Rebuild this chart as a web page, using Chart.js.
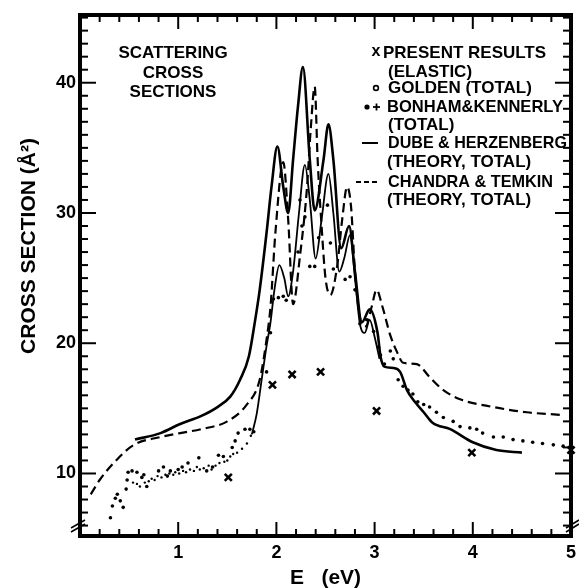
<!DOCTYPE html>
<html>
<head>
<meta charset="utf-8">
<title>Scattering cross sections</title>
<script src="https://cdn.jsdelivr.net/npm/chart.js@4.4.1/dist/chart.umd.min.js"></script>
<style>
  html, body { margin: 0; padding: 0; background: #fff; }
  #wrap { position: relative; width: 579px; height: 588px; }
</style>
</head>
<body>
<div id="wrap"><canvas id="xsChart"></canvas></div>
<script>
// ─── DATA ──────────────────────────────────────────────────
const X_TICKS = [1, 2, 3, 4, 5];
const Y_TICKS = [10, 20, 30, 40];

// present results (elastic) – crosses
const PRESENT_E = [1.51, 1.96, 2.16, 2.45, 3.02, 3.99, 5.00];
const PRESENT_Q = [9.7, 16.8, 17.6, 17.8, 14.8, 11.6, 11.8];

// Dube & Herzenberg (theory, total) – solid
const DUBE_E = [0.56, 0.82, 1.02, 1.23, 1.40, 1.53, 1.63, 1.72, 1.78, 1.83, 1.90, 1.95, 2.01, 2.07, 2.12, 2.17, 2.22, 2.27, 2.34, 2.39,
                2.48, 2.53, 2.58, 2.66, 2.74, 2.80, 2.87, 2.95, 3.03, 3.06, 3.10, 3.19, 3.26, 3.33, 3.41, 3.50, 3.59, 3.77, 4.00, 4.24, 4.50];
const DUBE_Q = [12.6, 13.1, 13.8, 14.4, 15.1, 15.9, 17.2, 19.0, 21.6, 24.1, 28.5, 32.0, 35.1, 32.0, 30.0, 34.1, 38.2, 41.2, 34.1, 30.2,
                34.1, 36.8, 34.1, 27.3, 29.0, 25.5, 21.6, 22.6, 20.8, 19.0, 18.2, 18.1, 17.8, 16.4, 15.5, 14.7, 13.9, 13.4, 12.4, 11.8, 11.6];

// Chandra & Temkin (theory, total) – dashed
const CHANDRA_E = [0.11, 0.20, 0.38, 0.55, 0.82, 1.02, 1.23, 1.50, 1.70, 1.83, 1.90, 1.94, 1.99, 2.07, 2.12, 2.17, 2.24, 2.31, 2.35, 2.39,
                   2.42, 2.46, 2.50, 2.55, 2.62, 2.67, 2.72, 2.76, 2.80, 2.85, 2.91, 2.97, 3.02, 3.08, 3.16, 3.23, 3.29, 3.43, 3.56, 3.70,
                   3.87, 4.21, 4.55, 4.89];
const CHANDRA_Q = [8.4, 9.5, 11.1, 12.2, 12.8, 13.1, 13.4, 14.0, 15.3, 17.2, 20.3, 22.8, 28.5, 33.9, 29.5, 23.0, 26.7, 31.8, 36.5, 39.7,
                   34.1, 29.0, 25.0, 23.7, 26.0, 29.5, 32.0, 30.5, 25.5, 22.0, 21.3, 22.8, 24.1, 22.8, 20.6, 19.3, 18.5, 18.4, 17.4, 16.4,
                   15.7, 15.1, 14.7, 14.5];

// Golden (total) – thin trace through the resonance
const GOLDEN_E = [1.75, 1.80, 1.85, 1.90, 1.94, 1.98, 2.03, 2.08, 2.12, 2.17, 2.23, 2.29, 2.34, 2.40, 2.46, 2.53, 2.58, 2.64, 2.69, 2.75,
                  2.80, 2.85, 2.90, 2.95, 3.00, 3.05];
const GOLDEN_Q = [13.0, 14.6, 17.2, 19.8, 21.6, 24.1, 26.0, 25.0, 23.6, 25.5, 30.0, 33.7, 31.0, 26.5, 29.5, 33.0, 30.0, 25.5, 26.5, 28.3,
                  25.0, 21.5, 20.8, 21.8, 20.5, 18.8];

// Bonham & Kennerly (total) – dots
const BK_E = [0.31, 0.33, 0.36, 0.38, 0.41, 0.44, 0.47, 0.48, 0.49, 0.53, 0.58, 0.63, 0.65, 0.68, 0.80, 0.85, 0.89, 0.92, 1.00, 1.04,
              1.10, 1.21, 1.29, 1.35, 1.41, 1.46, 1.55, 1.58, 1.61, 1.68, 1.73, 1.77, 1.90, 1.94, 1.97, 2.02, 2.07, 2.10, 2.22, 2.24,
              2.26, 2.29, 2.34, 2.39, 2.43, 2.52, 2.55, 2.58, 2.70, 2.75, 2.80, 2.85, 2.92, 2.99, 3.04, 3.06, 3.10, 3.16, 3.19, 3.24,
              3.29, 3.34, 3.39, 3.44, 3.50, 3.56, 3.63, 3.70, 3.80, 3.87, 3.97, 4.04, 4.10, 4.21, 4.31, 4.41, 4.51, 4.61, 4.71, 4.82,
              4.92, 5.00];
const BK_Q = [6.6, 7.5, 8.1, 8.4, 7.9, 7.4, 8.8, 9.5, 10.1, 10.2, 10.1, 9.7, 9.9, 9.0, 10.2, 10.5, 9.8, 10.2, 10.3, 10.5,
              10.8, 11.2, 10.2, 10.5, 11.4, 11.3, 12.0, 12.5, 13.1, 13.4, 13.4, 13.2, 17.8, 20.8, 23.4, 23.5, 23.6, 23.3, 27.0, 31.0,
              29.0, 29.7, 25.9, 25.9, 28.1, 30.6, 27.7, 25.7, 24.9, 25.1, 24.1, 21.5, 21.8, 20.9, 19.7, 19.1, 18.4, 19.4, 18.8, 17.2,
              16.7, 16.4, 16.1, 15.5, 15.3, 15.1, 14.7, 14.3, 14.0, 13.6, 13.5, 13.4, 13.1, 12.8, 12.8, 12.6, 12.5, 12.4, 12.3, 12.2,
              12.1, 12.1];

// Bonham & Kennerly (total) – crosses, the dense low-energy trail
const BKP_E = [0.54, 0.58, 0.61, 0.66, 0.70, 0.73, 0.76, 0.79, 0.83, 0.87, 0.91, 0.95, 0.97, 1.01, 1.05, 1.08, 1.12, 1.16, 1.19, 1.22,
               1.26, 1.31, 1.34, 1.38, 1.42, 1.47, 1.50, 1.53, 1.56, 1.60, 1.65, 1.70, 1.74];
const BKP_Q = [9.3, 9.2, 9.0, 9.3, 9.4, 9.6, 9.5, 9.8, 9.7, 9.9, 10.0, 9.9, 10.1, 10.0, 10.2, 10.1, 10.3, 10.2, 10.5, 10.3,
               10.4, 10.6, 10.3, 10.6, 10.8, 10.9, 11.0, 11.3, 11.5, 11.6, 11.9, 12.3, 12.9];

// ─── CHART ─────────────────────────────────────────────────
const FONT = '"Liberation Sans", Arial, sans-serif';
const pts = (xs, ys) => xs.map((x, i) => ({ x, y: ys[i] }));

const paperDecor = {
  id: 'paperDecor',
  afterDraw(chart) {
    const { ctx, chartArea: a, scales: { x, y } } = chart;
    const seg = (x1, y1, x2, y2, w) => {
      ctx.lineWidth = w;
      ctx.beginPath(); ctx.moveTo(x1, y1); ctx.lineTo(x2, y2); ctx.stroke();
    };
    ctx.save();
    ctx.strokeStyle = '#000';
    ctx.fillStyle = '#000';

    // inward ticks, 1 unit on y and 0.2 eV on x
    for (let v = 6; v <= 45; v++) {
      const py = y.getPixelForValue(v);
      const len = v % 10 === 0 ? 16 : 8;
      seg(a.left, py, a.left + len, py, 2);
      seg(a.right, py, a.right - len, py, 2);
    }
    for (let i = 1; i < 25; i++) {
      const px = x.getPixelForValue(i / 5);
      const len = i % 5 === 0 ? 14 : 7;
      seg(px, a.bottom, px, a.bottom - len, 2);
      seg(px, a.top, px, a.top + len, 2);
    }

    // heavy frame + axis-break marks
    ctx.lineWidth = 4;
    ctx.strokeRect(a.left, a.top, a.right - a.left, a.bottom - a.top);
    seg(a.left - 1, a.bottom - 2, a.left + 2, a.bottom - 2, 5);
    seg(a.left - 9, a.bottom - 4, a.left + 5, a.bottom - 12, 1.6);
    seg(a.left - 9, a.bottom - 8, a.left + 5, a.bottom - 16, 1.6);
    seg(a.right - 5, a.bottom - 4, a.right + 8, a.bottom - 12, 1.6);
    seg(a.right - 5, a.bottom - 8, a.right + 8, a.bottom - 16, 1.6);

    // axis titles
    ctx.textBaseline = 'middle';
    ctx.textAlign = 'center';
    ctx.font = `bold 21px ${FONT}`;
    ctx.fillText('E   (eV)', (a.left + a.right) / 2, 578);
    ctx.save();
    ctx.translate(29, 246);
    ctx.rotate(-Math.PI / 2);
    ctx.fillText('CROSS SECTION (Å²)', 0, 0);
    ctx.restore();

    // panel label
    ctx.font = `bold 17px ${FONT}`;
    ctx.fillText('SCATTERING', 173, 53);
    ctx.fillText('CROSS', 173, 73);
    ctx.fillText('SECTIONS', 173, 92);

    // hand-lettered key
    ctx.textAlign = 'left';
    const rows = [
      ['PRESENT RESULTS', 383, 53, 171],
      ['(ELASTIC)', 388, 72, 90],
      ['GOLDEN (TOTAL)', 388, 88, 150],
      ['BONHAM&KENNERLY', 387, 107, 176],
      ['(TOTAL)', 388, 125, 72],
      ['DUBE & HERZENBERG', 388, 143, 179],
      ['(THEORY, TOTAL)', 387, 162, 153],
      ['CHANDRA & TEMKIN', 388, 182, 165],
      ['(THEORY, TOTAL)', 387, 200, 153],
    ];
    rows.forEach(([t, tx, ty, w]) => ctx.fillText(t, tx, ty, w));

    ctx.font = `bold 16px ${FONT}`;
    ctx.textAlign = 'center';
    ctx.fillText('x', 376, 52);
    ctx.lineWidth = 1.6;
    ctx.beginPath(); ctx.arc(376, 88, 2.4, 0, Math.PI * 2); ctx.stroke();
    ctx.beginPath(); ctx.arc(367, 107, 2.6, 0, Math.PI * 2); ctx.fill();
    seg(373, 107, 380, 107, 1.8);
    seg(376.5, 103.5, 376.5, 110.5, 1.8);
    seg(362, 143, 378, 143, 2);
    ctx.setLineDash([5, 3]);
    seg(356, 182, 379, 182, 2);
    ctx.setLineDash([]);

    ctx.restore();
  }
};

const axisFont = { family: FONT, size: 18, weight: 'bold' };

new Chart(document.getElementById('xsChart'), {
  type: 'scatter',
  data: {
    datasets: [
      { label: 'Dube & Herzenberg', data: pts(DUBE_E, DUBE_Q), showLine: true, borderColor: '#000',
        borderWidth: 2.6, pointRadius: 0, cubicInterpolationMode: 'monotone' },
      { label: 'Chandra & Temkin', data: pts(CHANDRA_E, CHANDRA_Q), showLine: true, borderColor: '#000',
        borderWidth: 2.2, borderDash: [9, 5], pointRadius: 0, cubicInterpolationMode: 'monotone' },
      { label: 'Golden', data: pts(GOLDEN_E, GOLDEN_Q), showLine: true, borderColor: '#000',
        borderWidth: 1.8, pointRadius: 0, cubicInterpolationMode: 'monotone' },
      { label: 'Bonham & Kennerly', data: pts(BK_E, BK_Q), pointRadius: 1.8, borderWidth: 0,
        backgroundColor: '#000', clip: false },
      { label: 'Bonham & Kennerly (+)', data: pts(BKP_E, BKP_Q), pointRadius: 1.2, borderWidth: 0,
        backgroundColor: '#000' },
      { label: 'Present results', data: pts(PRESENT_E, PRESENT_Q), pointStyle: 'crossRot', pointRadius: 5,
        borderWidth: 2.6, borderColor: '#000', clip: false },
    ],
  },
  options: {
    responsive: true,
    maintainAspectRatio: false,
    animation: false,
    layout: { padding: { top: 15, right: 8, left: 0, bottom: 0 } },
    plugins: { legend: { display: false }, tooltip: { enabled: false } },
    scales: {
      x: {
        type: 'linear', min: 0, max: 5,
        grid: { display: false, drawTicks: false }, border: { display: false },
        afterBuildTicks: s => { s.ticks = X_TICKS.map(v => ({ value: v })); },
        afterFit: s => { s.height = 52; s.paddingLeft = 0; s.paddingRight = 0; },
        ticks: { padding: 6, color: '#000', font: axisFont },
      },
      y: {
        type: 'linear', min: 5.2, max: 45.2,
        grid: { display: false, drawTicks: false }, border: { display: false },
        afterBuildTicks: s => { s.ticks = Y_TICKS.map(v => ({ value: v })); },
        afterFit: s => { s.width = 80; },
        ticks: { padding: 4, color: '#000', font: axisFont },
      },
    },
  },
  plugins: [paperDecor],
});
</script>
</body>
</html>
